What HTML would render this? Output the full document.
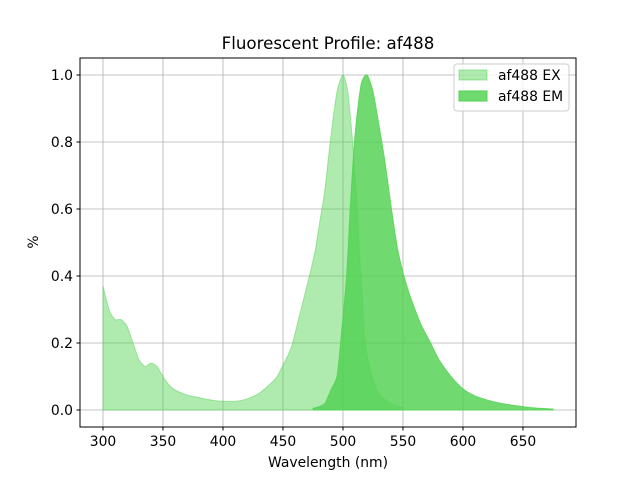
<!DOCTYPE html>
<html><head><meta charset="utf-8"><style>
body{margin:0;background:#fff;}
svg text{font-family:"DejaVu Sans","Liberation Sans",sans-serif;}
</style></head><body>
<svg id="chart" width="640" height="480" xmlns="http://www.w3.org/2000/svg">
<rect width="640" height="480" fill="#fff"/>
<text x="328" y="49" text-anchor="middle" font-size="16.67">Fluorescent Profile: af488</text>
<g id="grid"></g>
<g id="series"></g>
<rect x="80" y="58" width="496" height="369" fill="none" stroke="#000" stroke-width="1"/>
<g id="ticks"></g>
<text x="328" y="467" text-anchor="middle" font-size="13.9">Wavelength (nm)</text>
<text x="38" y="242" text-anchor="middle" font-size="13.9" transform="rotate(-90 38 242)">%</text>
<g>
<rect x="454" y="64" width="115" height="47" rx="3" fill="#fff" fill-opacity="0.8" stroke="#ccc"/>
<g>
<rect x="459" y="70" width="28" height="10" fill="rgb(80,210,80)" fill-opacity="0.46" stroke="rgb(80,210,80)" stroke-opacity="0.5"/>
<text x="498" y="80" font-size="13.9">af488 EX</text></g>
<g>
<rect x="459" y="91" width="28" height="10" fill="rgb(80,210,80)" fill-opacity="0.82" stroke="rgb(80,210,80)"/>
<text x="498" y="101" font-size="13.9">af488 EM</text></g>
</g>
</svg>
<script>
const exWavelengths=[300,305,310,315,320,325,330,335,340,345,350,355,360,370,380,390,400,410,420,430,440,445,450,455,458,465,472,477,481,485,490,495,500,504,508,512,514,516,518,522,528,535,545,550];
const exValues=[0.37,0.30,0.27,0.27,0.25,0.20,0.15,0.13,0.14,0.13,0.10,0.075,0.06,0.045,0.037,0.03,0.026,0.026,0.033,0.05,0.08,0.1,0.134,0.17,0.2,0.3,0.4,0.48,0.57,0.66,0.82,0.95,1.0,0.95,0.8,0.6,0.45,0.35,0.22,0.13,0.06,0.03,0.012,0.008];
const emWavelengths=[475,480,485,490,495,498,503,506,510,515,520,525,530,535,540,545,550,555,560,565,573,580,590,600,610,620,630,640,650,660,675];
const emValues=[0.005,0.01,0.02,0.06,0.1,0.2,0.4,0.6,0.82,0.97,1.0,0.95,0.85,0.74,0.61,0.49,0.41,0.35,0.3,0.255,0.2,0.15,0.1,0.063,0.042,0.03,0.021,0.015,0.01,0.006,0.003];
const xTicks=[300,350,400,450,500,550,600,650];
const yTicks=[0.0,0.2,0.4,0.6,0.8,1.0];
const NS="http://www.w3.org/2000/svg";
const xs=v=>103+(v-300)*1.2;
const ys=v=>410-v*335;
function mk(tag,attrs,parent){const e=document.createElementNS(NS,tag);for(const k in attrs)e.setAttribute(k,attrs[k]);parent.appendChild(e);return e;}
const grid=document.getElementById('grid'),ticks=document.getElementById('ticks'),series=document.getElementById('series');
xTicks.forEach(t=>{const x=xs(t);
 const g=mk('line',{x1:x,x2:x,y1:58,y2:427,stroke:'#b0b0b0','stroke-width':0.8},grid);
 
 
 mk('line',{x1:x,x2:x,y1:427,y2:430.5,stroke:'#000'},ticks);
 const tx=mk('text',{x:x,y:446,'text-anchor':'middle','font-size':13.9},ticks);tx.textContent=t;
 
 
});
yTicks.forEach(t=>{const y=ys(t);
 const g=mk('line',{x1:80,x2:576,y1:y,y2:y,stroke:'#b0b0b0','stroke-width':0.8},grid);
 
 
 mk('line',{x1:76.5,x2:80,y1:y,y2:y,stroke:'#000'},ticks);
 const tx=mk('text',{x:73,y:y+5,'text-anchor':'end','font-size':13.9},ticks);tx.textContent=t.toFixed(1);
 
 
});
function area(wl,vals,op){
 const pts=wl.map((w,i)=>[xs(w),ys(vals[i])]);
 let d='M'+xs(wl[0])+','+ys(0)+'L'+pts[0][0]+','+pts[0][1];
 for(let i=0;i<pts.length-1;i++){
  const p0=pts[Math.max(0,i-1)],p1=pts[i],p2=pts[i+1],p3=pts[Math.min(pts.length-1,i+2)];
  const t=0.12;
  const c1=[p1[0]+(p2[0]-p0[0])*t,p1[1]+(p2[1]-p0[1])*t];
  const c2=[p2[0]-(p3[0]-p1[0])*t,p2[1]-(p3[1]-p1[1])*t];
  d+='C'+c1[0]+','+Math.min(c1[1],410)+' '+c2[0]+','+Math.min(c2[1],410)+' '+p2[0]+','+p2[1];
 }
 d+='L'+xs(wl[wl.length-1])+','+ys(0)+'Z';
 return mk('path',{d:d,fill:'rgb(80,210,80)','fill-opacity':op,stroke:'rgb(80,210,80)','stroke-opacity':op,'stroke-width':1},series);}
const ex=area(exWavelengths,exValues,0.46);


const em=area(emWavelengths,emValues,0.82);


</script>
</body></html>
